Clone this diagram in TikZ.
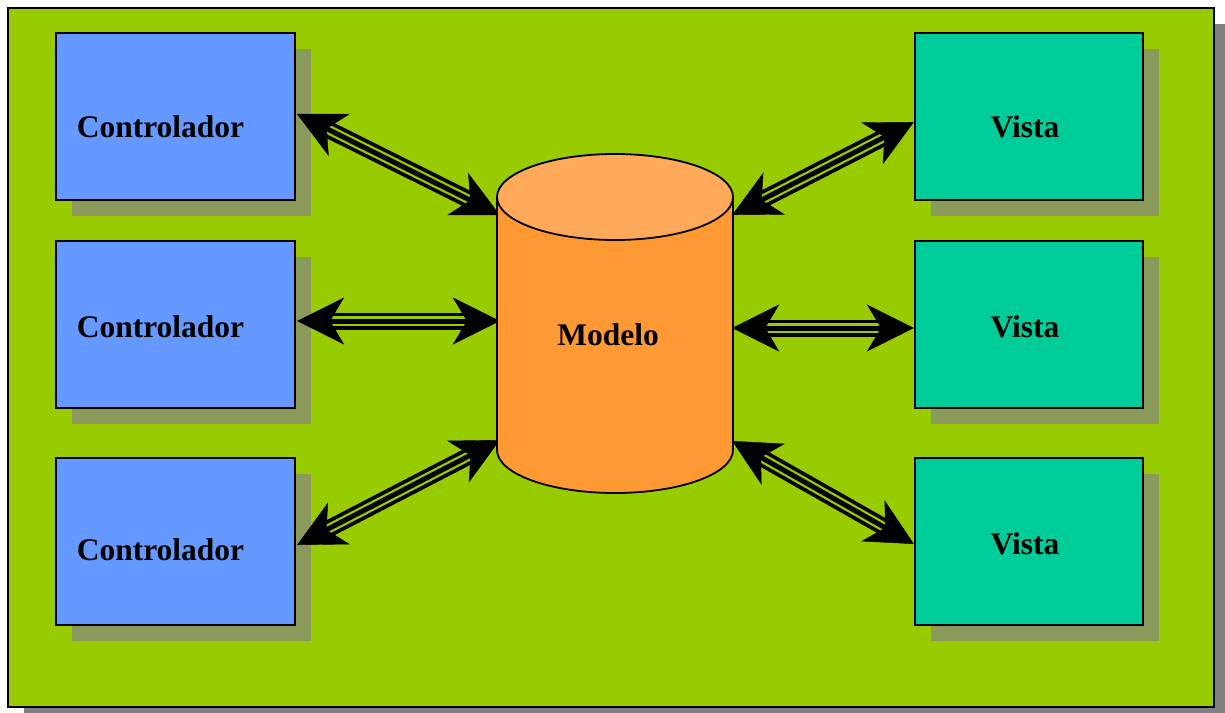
\documentclass[tikz,border=0pt]{standalone}
\usepackage{fontspec}
\setmainfont{Liberation Serif}
\usetikzlibrary{arrows.meta,calc,shadows}
\definecolor{bggreen}{HTML}{99CC00}
\definecolor{ctlblue}{HTML}{6699FF}
\definecolor{viewteal}{HTML}{00CC99}
\definecolor{cylbody}{HTML}{FF9933}
\definecolor{cyltop}{HTML}{FFAA5A}
\definecolor{dropgray}{HTML}{808080}
\definecolor{stipple}{HTML}{8A9A5A}

\begin{document}
\begin{tikzpicture}[x=1pt,y=-1pt,
  frame/.style={draw=black,line width=2pt,fill=bggreen,inner sep=0pt,
    minimum width=1206pt,minimum height=699pt,
    drop shadow={shadow xshift=16pt,shadow yshift=-16pt,fill=dropgray,opacity=1}},
  box/.style={draw=black,line width=2.2pt,inner sep=0pt,minimum height=167pt,
    drop shadow={shadow xshift=16pt,shadow yshift=-16pt,fill=stipple,opacity=1}},
  ctl/.style={box,fill=ctlblue,minimum width=239pt},
  view/.style={box,fill=viewteal,minimum width=228pt},
  lbl/.style={font=\fontsize{31.5}{36}\selectfont\bfseries,inner sep=0pt},
  railout/.style={line width=17pt,black,shorten <=30pt,shorten >=30pt},
  railgap/.style={line width=9.5pt,bggreen,shorten <=29pt,shorten >=29pt},
  railmid/.style={line width=5pt,black,shorten <=30pt,shorten >=30pt},
  heads/.style={line width=0.4pt,black,
    {Stealth[length=47pt,width=47pt,inset=14pt]}-{Stealth[length=47pt,width=47pt,inset=14pt]}},
  cyl/.style={draw=black,line width=1.8pt}]

\useasboundingbox (0,0) rectangle (1225,712);

% background panel
\node[frame] (bg) at (611,357.5) {};

% controllers and views
\node[ctl] (c1) at (175.5,116.5) {};
\node[ctl] (c2) at (175.5,324.5) {};
\node[ctl] (c3) at (175.5,541.5) {};
\node[view] (v1) at (1029,116.5) {};
\node[view] (v2) at (1029,324.5) {};
\node[view] (v3) at (1029,541.5) {};

\node[lbl] at ($(c1.center)+(-15,10)$) {Controlador};
\node[lbl] at ($(c2.center)+(-15,2)$) {Controlador};
\node[lbl] at ($(c3.center)+(-15,8.5)$) {Controlador};
\node[lbl] at ($(v1.center)+(-4,10)$) {Vista};
\node[lbl] at ($(v2.center)+(-4,2)$) {Vista};
\node[lbl] at ($(v3.center)+(-4,2)$) {Vista};

% model cylinder frame (for anchors)
\node[minimum width=236pt,minimum height=339pt,inner sep=0pt] (m) at (615,323.5) {};

% arrow end points
\coordinate (a1) at ($(c1.east)+(1,-2.5)$);
\coordinate (b1) at ($(m.west)+(3,-108.5)$);
\coordinate (a2) at ($(c2.east)+(1,-3.5)$);
\coordinate (b2) at ($(m.west)+(3,-2.5)$);
\coordinate (a3) at ($(c3.east)+(1,3.5)$);
\coordinate (b3) at ($(m.west)+(3,116.5)$);
\coordinate (a4) at ($(v1.west)+(0,5.5)$);
\coordinate (b4) at ($(m.east)+(-1,-108.5)$);
\coordinate (a5) at ($(v2.west)+(0,3.5)$);
\coordinate (b5) at ($(m.east)+(-1,4.5)$);
\coordinate (a6) at ($(v3.west)+(0,2.5)$);
\coordinate (b6) at ($(m.east)+(-1,117.5)$);

% triple-lined double arrows
\foreach \p/\q in {a1/b1,a2/b2,a3/b3,a4/b4,a5/b5,a6/b6}{
  \draw[railout] (\p) -- (\q);
  \draw[railgap] (\p) -- (\q);
  \draw[railmid] (\p) -- (\q);
  \draw[heads] (\p) -- (\q);
}

% model cylinder
\filldraw[cyl,fill=cylbody] (497,197) -- (497,450)
  .. controls (497,473.7) and (549.8,493) .. (615,493)
  .. controls (680.2,493) and (733,473.7) .. (733,450) -- (733,197) -- cycle;
\filldraw[cyl,fill=cyltop] (615,197) ellipse [x radius=118,y radius=43];
\node[lbl] at ($(m.center)+(-7,11.5)$) {Modelo};
\end{tikzpicture}
\end{document}
